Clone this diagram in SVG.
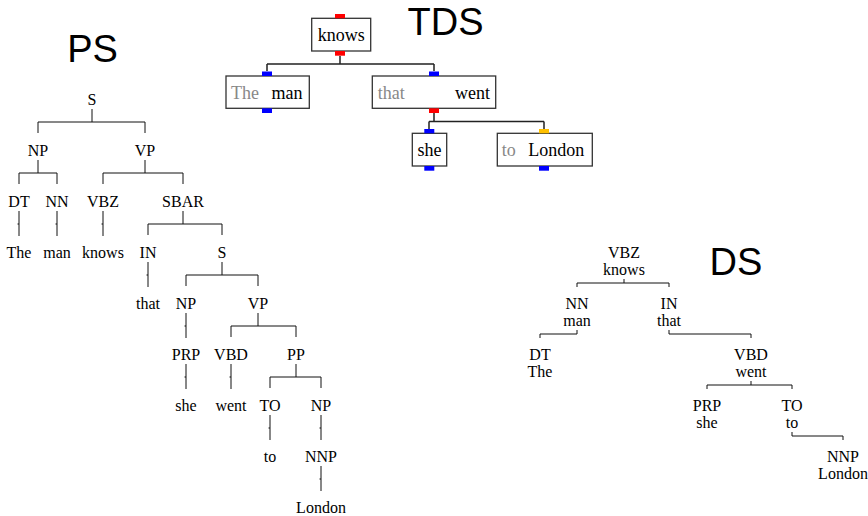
<svg xmlns="http://www.w3.org/2000/svg" width="868" height="516" viewBox="0 0 868 516">
<style>
.t{font-family:"Liberation Serif","Times New Roman",serif;font-size:16px;fill:#000;text-anchor:middle}
.b{font-family:"Liberation Serif","Times New Roman",serif;font-size:18px;fill:#000}
.g{fill:#888}
.title{font-family:"Liberation Sans",Arial,sans-serif;font-size:38px;fill:#000;text-anchor:middle}
.ln{fill:none;stroke:#111;stroke-width:1}
.tl{fill:none;stroke:#222;stroke-width:1.5}
.box{fill:#fff;stroke:#333;stroke-width:1.3}
.red{fill:#ff0000}.blue{fill:#0000ff}.yel{fill:#ffc000}
</style>
<rect width="868" height="516" fill="#fff"/>
<text class="title" x="92.5" y="62">PS</text>
<text class="title" x="445.5" y="35">TDS</text>
<text class="title" x="736" y="275">DS</text>

<g id="ps-connectors" class="ln">
<path d="M92 109V122M38 122H145M38 122V133M145 122V133"/>
<path d="M38 160V173M19 173H57M19 173V184M57 173V184"/>
<path d="M145 160V173M103 173H183M103 173V184M183 173V184"/>
<path d="M19 211V236M17.5 224H19M57 211V236M55.5 224H57M103 211V236M101.5 224H103"/>
<path d="M183 211V224M148 224H222M148 224V235M222 224V235"/>
<path d="M148 262V287M146.5 275H148"/>
<path d="M222 262V275M186 275H258M186 275V286M258 275V286"/>
<path d="M186 313V338M184.5 326H186"/>
<path d="M258 313V326M231 326H296M231 326V337M296 326V337"/>
<path d="M186 364V389M184.5 377H186M231 364V389M229.5 377H231"/>
<path d="M296 364V377M270 377H321M270 377V388M321 377V388"/>
<path d="M270 415V440M268.5 428H270M321 415V440M319.5 428H321"/>
<path d="M321 466V491M319.5 479H321"/>
</g>
<g id="ps-S"><text class="t" x="92" y="105">S</text></g>
<g id="ps-NP"><text class="t" x="38" y="156">NP</text></g>
<g id="ps-VP"><text class="t" x="145" y="156">VP</text></g>
<g id="ps-DT"><text class="t" x="19" y="207">DT</text></g>
<g id="ps-NN"><text class="t" x="57" y="207">NN</text></g>
<g id="ps-VBZ"><text class="t" x="103" y="207">VBZ</text></g>
<g id="ps-SBAR"><text class="t" x="183" y="207">SBAR</text></g>
<g id="ps-The"><text class="t" x="19" y="258">The</text></g>
<g id="ps-man"><text class="t" x="57" y="258">man</text></g>
<g id="ps-knows"><text class="t" x="103" y="258">knows</text></g>
<g id="ps-IN"><text class="t" x="148" y="258">IN</text></g>
<g id="ps-S2"><text class="t" x="222" y="258">S</text></g>
<g id="ps-that"><text class="t" x="148" y="309">that</text></g>
<g id="ps-NP2"><text class="t" x="186" y="309">NP</text></g>
<g id="ps-VP2"><text class="t" x="258" y="309">VP</text></g>
<g id="ps-PRP"><text class="t" x="186" y="360">PRP</text></g>
<g id="ps-VBD"><text class="t" x="231" y="360">VBD</text></g>
<g id="ps-PP"><text class="t" x="296" y="360">PP</text></g>
<g id="ps-she"><text class="t" x="186" y="411">she</text></g>
<g id="ps-went"><text class="t" x="231" y="411">went</text></g>
<g id="ps-TO"><text class="t" x="270" y="411">TO</text></g>
<g id="ps-NP3"><text class="t" x="321" y="411">NP</text></g>
<g id="ps-to"><text class="t" x="270" y="462">to</text></g>
<g id="ps-NNP"><text class="t" x="321" y="462">NNP</text></g>
<g id="ps-London"><text class="t" x="321" y="513">London</text></g>

<g id="tds-connectors" class="tl">
<path d="M340 56V64M267 64H434M267 64V71M434 64V71"/>
<path d="M434 113V121.5M429 121.5H544M429 121.5V129M544 121.5V129"/>
</g>
<g id="tds-knows">
<rect class="box" x="311.7" y="18.3" width="59" height="32.7"/>
<rect class="red" x="335" y="14" width="10" height="4.3"/>
<rect class="red" x="335" y="51" width="10" height="4.7"/>
<text class="b" x="341.2" y="41" text-anchor="middle">knows</text>
</g>
<g id="tds-man">
<rect class="box" x="226" y="76" width="83.3" height="32.3"/>
<rect class="blue" x="262" y="71.5" width="10" height="4.5"/>
<rect class="blue" x="262" y="108.3" width="10" height="4.7"/>
<text class="b g" x="231" y="99">The</text>
<text class="b" x="271.5" y="99">man</text>
</g>
<g id="tds-went">
<rect class="box" x="372.3" y="76" width="123.4" height="32.3"/>
<rect class="blue" x="429" y="71.5" width="10" height="4.5"/>
<rect class="red" x="429" y="108.3" width="10" height="4.7"/>
<text class="b g" x="377.7" y="99">that</text>
<text class="b" x="455" y="99">went</text>
</g>
<g id="tds-she">
<rect class="box" x="412.3" y="133.3" width="34.4" height="32.7"/>
<rect class="blue" x="424.3" y="129" width="10" height="4.3"/>
<rect class="blue" x="424.3" y="166" width="10" height="4.7"/>
<text class="b" x="429.5" y="156.3" text-anchor="middle">she</text>
</g>
<g id="tds-London">
<rect class="box" x="497.3" y="133.3" width="95" height="32.7"/>
<rect class="yel" x="539" y="129" width="10" height="4.3"/>
<rect class="blue" x="539" y="166" width="10" height="4.7"/>
<text class="b g" x="501.7" y="156.3">to</text>
<text class="b" x="528.3" y="156.3">London</text>
</g>

<g id="ds-connectors" class="ln">
<path d="M577 283H669M624 283V279M577 283V287M669 283V287"/>
<path d="M540 334H577M577 334V330M540 334V338"/>
<path d="M669 334H751M669 334V330M751 334V338"/>
<path d="M707 385H792M751 385V381M707 385V389M792 385V389"/>
<path d="M792 436H843M792 436V432M843 436V440"/>
</g>
<g id="ds-knows"><text class="t" x="624" y="258">VBZ</text><text class="t" x="624" y="275">knows</text></g>
<g id="ds-man"><text class="t" x="577" y="309">NN</text><text class="t" x="577" y="326">man</text></g>
<g id="ds-that"><text class="t" x="669" y="309">IN</text><text class="t" x="669" y="326">that</text></g>
<g id="ds-The"><text class="t" x="540" y="360">DT</text><text class="t" x="540" y="377">The</text></g>
<g id="ds-went"><text class="t" x="751" y="360">VBD</text><text class="t" x="751" y="377">went</text></g>
<g id="ds-she"><text class="t" x="707" y="411">PRP</text><text class="t" x="707" y="428">she</text></g>
<g id="ds-to"><text class="t" x="792" y="411">TO</text><text class="t" x="792" y="428">to</text></g>
<g id="ds-London"><text class="t" x="843" y="462">NNP</text><text class="t" x="843" y="479">London</text></g>
</svg>
